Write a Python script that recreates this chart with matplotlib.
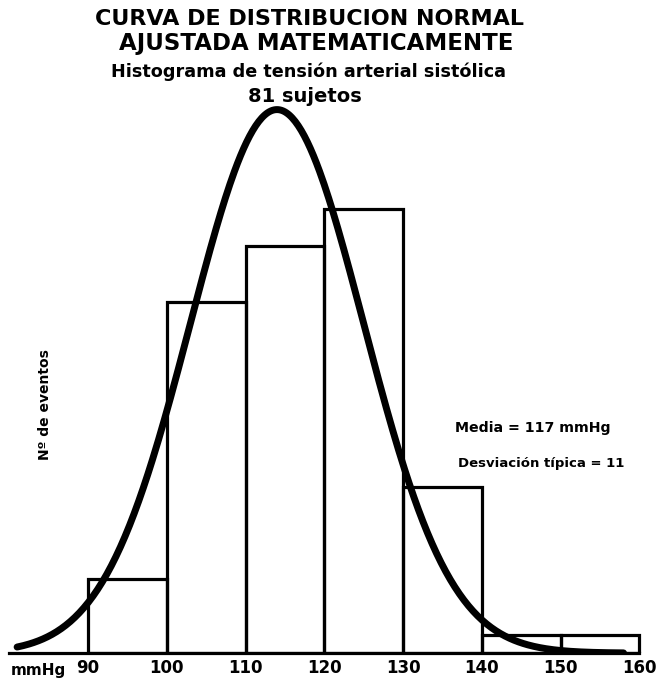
import numpy as np
import matplotlib
matplotlib.use("Agg")
import matplotlib.pyplot as plt

# datos del histograma
bin_edges = [90, 100, 110, 120, 130, 140, 150, 160]
counts = [4, 19, 22, 24, 9, 1, 1]
tick_labels = ["90", "100", "110", "120", "130", "140", "150", "160"]

# curva normal ajustada
n_sujetos = 81
curve_mean = 114   # pico de la curva tal como se dibuja
curve_sd = 11
curve_range = [81, 158]

titulo = ["CURVA DE DISTRIBUCION NORMAL", "AJUSTADA MATEMATICAMENTE"]
subtitulo = ["Histograma de tensión arterial sistólica", "81 sujetos"]
notas = ["Media = 117 mmHg", "Desviación típica = 11"]

plt.rcParams['font.family'] = ['DejaVu Sans']

fig = plt.figure(figsize=(6.59, 6.86), dpi=100)
ax = fig.add_axes([0.014, 0.048, 0.98, 0.863])

bin_w = bin_edges[1] - bin_edges[0]
ax.bar(bin_edges[:-1], counts, width=bin_w, align='edge', fill=False,
       edgecolor='black', linewidth=2.3, zorder=2)

x = np.linspace(curve_range[0], curve_range[1], 400)
y = n_sujetos * bin_w / (curve_sd * np.sqrt(2 * np.pi)) * np.exp(-(x - curve_mean) ** 2 / (2 * curve_sd ** 2))
ax.plot(x, y, color='black', linewidth=5, solid_capstyle='round', zorder=3)

ax.set_xlim(80, 162)
ax.set_ylim(0, 32)
for s in ['top', 'right', 'left']:
    ax.spines[s].set_visible(False)
ax.spines['bottom'].set_bounds(curve_range[0] - 1, bin_edges[-1])
ax.spines['bottom'].set_linewidth(2.3)
ax.set_yticks([])
ax.set_xticks(bin_edges)
ax.set_xticklabels(tick_labels, fontsize=12, fontweight='bold')
ax.tick_params(axis='x', length=0, pad=4)

fig.text(0.058, 0.023, "mmHg", fontsize=11, fontweight='bold', ha='center', va='center')
fig.text(0.068, 0.41, "Nº de eventos", fontsize=10, fontweight='bold', rotation=90,
         ha='center', va='center')

fig.text(0.469, 0.972, titulo[0], fontsize=16, fontweight='bold', ha='center', va='center')
fig.text(0.48, 0.937, titulo[1], fontsize=16.5, fontweight='bold', ha='center', va='center')
fig.text(0.468, 0.896, subtitulo[0], fontsize=12.7, fontweight='bold', ha='center', va='center')
fig.text(0.463, 0.859, subtitulo[1], fontsize=14, fontweight='bold', ha='center', va='center')

fig.text(0.69, 0.376, notas[0], fontsize=10.2, fontweight='bold', ha='left', va='center')
fig.text(0.695, 0.325, notas[1], fontsize=9.5, fontweight='bold', ha='left', va='center')

fig.savefig("out.png", dpi=100)
